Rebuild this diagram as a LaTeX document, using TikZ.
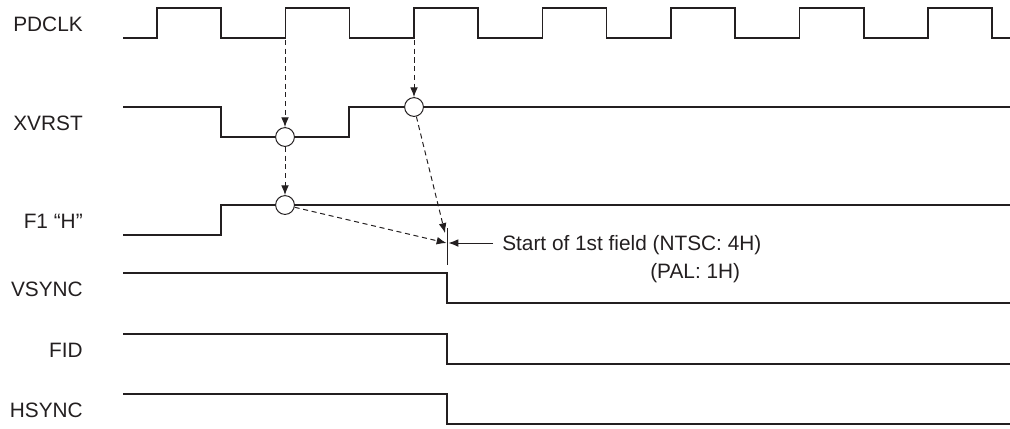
\documentclass[tikz,border=0pt]{standalone}
\usepackage{fontspec}
\setmainfont{Liberation Sans}
\usepackage{tikz}
\usetikzlibrary{positioning}
\usetikzlibrary{arrows,arrows.meta}
\definecolor{ink}{HTML}{231F20}
\tikzstyle{signal} = [draw=ink, line width=1.4pt]
\tikzstyle{probe} = [draw=ink, line width=0.7pt, dash pattern=on 3.6pt off 2.6pt, -{Latex[length=7pt,width=5.5pt]}]
\tikzstyle{line} = [draw=ink, line width=0.7pt, -{Latex[length=7pt,width=5.5pt]}]
\tikzstyle{ring} = [circle, draw=ink, line width=0.7pt, fill=white, minimum size=0.47cm, inner sep=0pt]
\tikzstyle{signame} = [anchor=base east, inner sep=0pt, text=ink]
\tikzstyle{note} = [anchor=base west, inner sep=0pt, text=ink]

\begin{document}
\begin{tikzpicture}[x=0.025cm, y=-0.025cm, font=\fontsize{14.8}{18}\selectfont]
	\useasboundingbox (0,0) rectangle (1010,428);

	% signal names
	\node[signame] (nclk) at (83,31.5) {PDCLK};
	\node[signame] (nxv) at (83,130) {XVRST};
	\node[signame] (nf1) at (83,228) {F1 “H”};
	\node[signame] (nvs) at (83,296) {VSYNC};
	\node[signame] (nfid) at (83,357) {FID};
	\node[signame] (nhs) at (83,417) {HSYNC};

	% waveforms
	\draw[signal] (123,38) \foreach \k in {0,...,6} {-- ({157+128.5*\k},38) -- ({157+128.5*\k},8) -- ({221+128.5*\k},8) -- ({221+128.5*\k},38)} -- (1010,38);
	\draw[signal] (123,107) -- (221,107) -- (221,137) -- (349,137) -- (349,107) -- (1010,107);
	\draw[signal] (123,235) -- (221,235) -- (221,205) -- (1010,205);
	\draw[signal] (123,273) -- (447,273) -- (447,303) -- (1010,303);
	\draw[signal] (123,334) -- (447,334) -- (447,364) -- (1010,364);
	\draw[signal] (123,394) -- (447,394) -- (447,424) -- (1010,424);

	% sampling points
	\node[ring] (xa) at (285,137) {};
	\node[ring] (xb) at (414,107) {};
	\node[ring] (fa) at (285,205) {};

	\coordinate (clkA) at (285,40);
	\coordinate (clkB) at (414,40);
	\coordinate (hitA) at (445,233);
	\coordinate (hitB) at (446.5,243);
	\coordinate (tickTop) at (447.3,228);
	\coordinate (tickBot) at (447.3,265);
	\coordinate (tail) at (493,243);
	\coordinate (head) at (448.5,243);

	\draw[probe] (clkA) -- (xa);
	\draw[probe] (clkB) -- (xb);
	\draw[probe] (xa) -- (fa);
	\draw[probe] (fa) -- (hitB);
	\draw[probe] (xb) -- (hitA);

	% start of field
	\draw[draw=ink, line width=0.7pt] (tickTop) -- (tickBot);
	\draw[line] (tail) -- (head);
	\node[note] (start) at (502,250) {Start of 1st field (NTSC: 4H)};
	\node[note] (pal) at (650,278) {(PAL: 1H)};
\end{tikzpicture}
\end{document}
